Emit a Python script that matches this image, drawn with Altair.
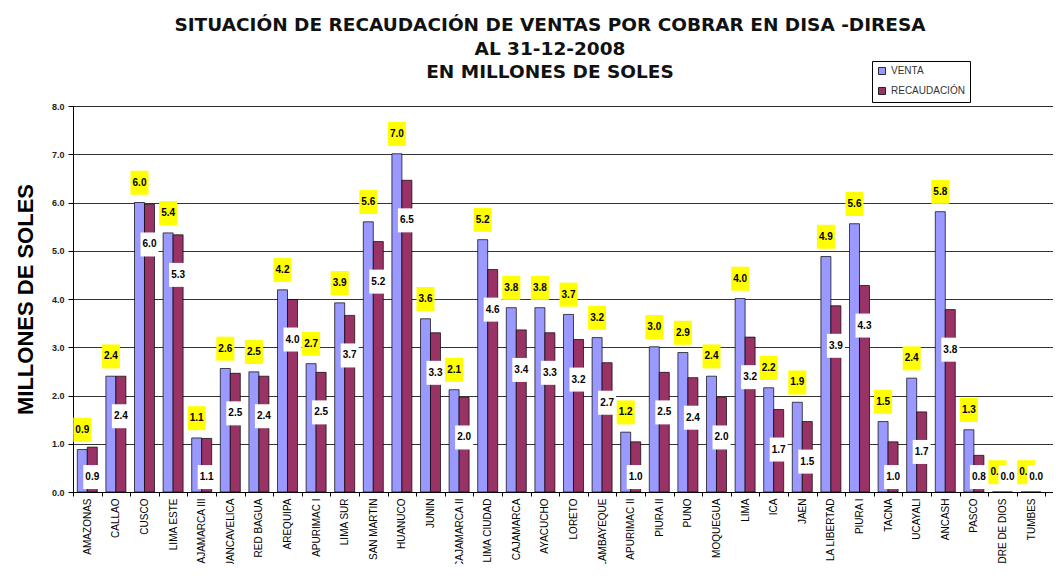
import altair as alt
import pandas as pd

regions = ["AMAZONAS", "CALLAO", "CUSCO", "LIMA ESTE", "CAJAMARCA III", "HUANCAVELICA",
           "RED BAGUA", "AREQUIPA", "APURIMAC I", "LIMA SUR", "SAN MARTIN", "HUANUCO",
           "JUNIN", "CAJAMARCA II", "LIMA CIUDAD", "CAJAMARCA", "AYACUCHO", "LORETO",
           "LAMBAYEQUE", "APURIMAC II", "PIURA II", "PUNO", "MOQUEGUA", "LIMA", "ICA",
           "JAEN", "LA LIBERTAD", "PIURA I", "TACNA", "UCAYALI", "ANCASH", "PASCO",
           "MADRE DE DIOS", "TUMBES"]
venta = [0.88, 2.40, 6.00, 5.37, 1.12, 2.56, 2.49, 4.19, 2.66, 3.92, 5.60, 7.01,
         3.59, 2.12, 5.23, 3.82, 3.82, 3.68, 3.20, 1.24, 3.01, 2.89, 2.40, 4.01, 2.16,
         1.86, 4.88, 5.56, 1.46, 2.36, 5.81, 1.29, 0.0, 0.0]
recaudacion = [0.93, 2.40, 5.96, 5.33, 1.11, 2.46, 2.40, 3.99, 2.48, 3.66, 5.19, 6.46,
               3.30, 1.96, 4.61, 3.36, 3.30, 3.16, 2.68, 1.04, 2.48, 2.37, 1.96, 3.21, 1.71,
               1.46, 3.86, 4.28, 1.04, 1.66, 3.78, 0.76, 0.0, 0.0]
series = ["VENTA", "RECAUDACIÓN"]
colors = ["#9999FF", "#993366"]
title_lines = ["SITUACIÓN DE RECAUDACIÓN DE VENTAS POR COBRAR EN DISA -DIRESA",
               "AL 31-12-2008", "EN MILLONES DE SOLES"]
y_ticks = [0, 1, 2, 3, 4, 5, 6, 7, 8]

rows = []
for r, v, c in zip(regions, venta, recaudacion):
    rows.append({"region": r, "series": series[0], "value": v})
    rows.append({"region": r, "series": series[1], "value": c})
df = pd.DataFrame(rows)

FONT = "Liberation Sans"

x_enc = alt.X("region:N", sort=regions,
              scale=alt.Scale(domain=regions, paddingInner=0, paddingOuter=0.133, align=0),
              axis=alt.Axis(title=None, labelAngle=-90, labelFont=FONT, labelFontSize=10,
                            labelColor="black", tickColor="black", tickSize=4,
                            domainColor="black", tickBand="extent", labelPadding=2,
                            grid=False, labelOverlap=False, labelLimit=200))
xo_enc = alt.XOffset("series:N", sort=series,
                     scale=alt.Scale(domain=series, paddingInner=0, paddingOuter=0.43))


def y_enc(field):
    return alt.Y(field, title="MILLONES DE SOLES",
                 scale=alt.Scale(domain=[0, 8], nice=False),
                 axis=alt.Axis(values=y_ticks, format=".1f", labelFont=FONT,
                               labelFontSize=9, labelFontWeight="bold", labelColor="#222",
                               tickSize=5, tickColor="black", domainColor="black",
                               gridColor="black", gridWidth=0.8, labelPadding=4,
                               titleFont=FONT, titleFontSize=22, titleFontWeight="bold",
                               titleColor="black", titleX=-41, titleY=193,
                               titleAlign="center", titleBaseline="alphabetic"))


base = alt.Chart(df).encode(x=x_enc, xOffset=xo_enc)

bars = base.mark_bar(stroke="black", strokeWidth=0.7).encode(
    y=y_enc("value:Q"),
    color=alt.Color("series:N", sort=series,
                    scale=alt.Scale(domain=series, range=colors),
                    legend=alt.Legend(title=None, orient="none", legendX=799, legendY=-45,
                                      fillColor="white", strokeColor="black", padding=5,
                                      symbolType="square", symbolSize=49,
                                      symbolStrokeColor="black", symbolStrokeWidth=0.8,
                                      labelFont=FONT, labelFontSize=10, labelColor="#333",
                                      rowPadding=8, direction="vertical")),
)

box_shape = "M-0.75,-1L0.75,-1L0.75,1L-0.75,1Z"

v_base = base.transform_filter(alt.datum.series == "VENTA").transform_calculate(
    ly="datum.value + 0.41")
r_base = base.transform_filter(alt.datum.series == "RECAUDACIÓN").transform_calculate(
    ly="max(datum.value - 0.83, 0.31)")

v_box = v_base.mark_point(shape=box_shape, size=576, filled=True, fill="#FFFF00",
                          opacity=1, strokeWidth=0).encode(y=y_enc("ly:Q"))
v_txt = v_base.mark_text(font=FONT, fontSize=10, fontWeight="bold", color="black",
                         baseline="middle").encode(
    y=y_enc("ly:Q"), text=alt.Text("value:Q", format=".1f"))
r_box = r_base.mark_point(shape=box_shape, size=576, filled=True, fill="#FFFFFF",
                          opacity=1, strokeWidth=0).encode(y=y_enc("ly:Q"))
r_txt = r_base.mark_text(font=FONT, fontSize=10, fontWeight="bold", color="black",
                         baseline="middle").encode(
    y=y_enc("ly:Q"), text=alt.Text("value:Q", format=".1f"))

chart = alt.layer(bars, v_box, v_txt, r_box, r_txt).properties(
    width=980, height=386,
    autosize=alt.AutoSizeParams(type="none"),
    padding={"left": 65, "top": 98, "right": 0, "bottom": 72},
    title=alt.TitleParams(text=title_lines, font="DejaVu Sans", fontSize=18.5,
                          fontWeight="bold", color="#111", anchor="middle",
                          lineHeight=23.5, dx=-13, dy=25, frame="group"),
).configure_view(stroke=None, fill="#F8ECD2").configure(background="white")

chart.save("out.html", embed_options={"renderer": "svg", "actions": False})
